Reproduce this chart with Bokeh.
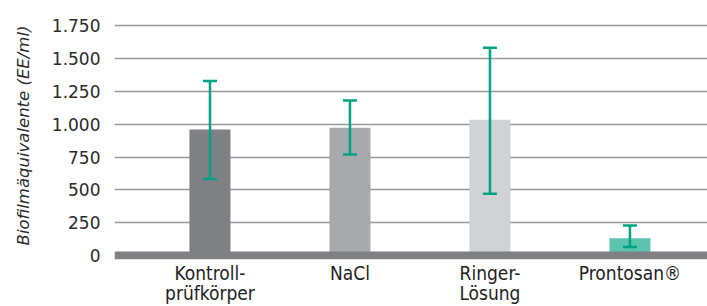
from bokeh.plotting import figure
from bokeh.models import (ColumnDataSource, Range1d, FixedTicker, Whisker, TeeHead, Span)
from bokeh.embed import file_html
from bokeh.resources import INLINE

categories = ["Kontroll-\nprüfkörper", "NaCl", "Ringer-\nLösung", "Prontosan®"]
means = [960, 975, 1035, 132]
err_upper = [1331, 1181, 1583, 230]
err_lower = [583, 770, 471, 66]
bar_colors = ["#7f8083", "#a8a9ab", "#d1d2d4", "#5cc3ae"]
y_ticks = [0, 250, 500, 750, 1000, 1250, 1500, 1750]
y_tick_labels = ["0", "250", "500", "750", "1.000", "1.250", "1.500", "1.750"]

xs = list(range(len(categories)))
src = ColumnDataSource(dict(x=xs, top=means, upper=err_upper, lower=err_lower, color=bar_colors))

p = figure(width=707, height=306, output_backend="svg", toolbar_location=None,
           x_range=Range1d(-0.682, 3.554), y_range=Range1d(-30, 1860),
           min_border_left=114, min_border_right=0, min_border_top=11, min_border_bottom=45)
p.outline_line_color = None
p.background_fill_color = "white"

p.vbar(x="x", top="top", bottom=0, width=0.293, fill_color="color", line_color=None, source=src)

tee_u = TeeHead(size=14, line_color="#00a383", line_width=2.5)
tee_l = TeeHead(size=14, line_color="#00a383", line_width=2.5)
w = Whisker(base="x", upper="upper", lower="lower", source=src, dimension="height",
            line_color="#00a383", line_width=2.5, upper_head=tee_u, lower_head=tee_l,
            level="overlay")
p.add_layout(w)

p.add_layout(Span(location=0, dimension="width", line_color="#7f8083", line_width=8))

# grid
p.xgrid.visible = False
p.ygrid.ticker = FixedTicker(ticks=y_ticks[1:])
p.ygrid.grid_line_color = "#97989b"
p.ygrid.grid_line_width = 1.6

# y axis
p.yaxis.ticker = FixedTicker(ticks=y_ticks)
p.yaxis.major_label_overrides = {t: l for t, l in zip(y_ticks, y_tick_labels)}
p.yaxis.axis_line_color = None
p.yaxis.major_tick_line_color = None
p.yaxis.minor_tick_line_color = None
p.yaxis.major_tick_out = 0
p.yaxis.major_tick_in = 0
p.yaxis.major_label_standoff = 14
p.yaxis.major_label_text_font = "DejaVu Sans"
p.yaxis.major_label_text_font_size = "17px"
p.yaxis.major_label_text_color = "#2b2b2b"
p.yaxis.axis_label = "Biofilmäquivalente (EE/ml)"
p.yaxis.axis_label_text_font = "DejaVu Sans"
p.yaxis.axis_label_text_font_style = "italic"
p.yaxis.axis_label_text_font_size = "16.5px"
p.yaxis.axis_label_text_color = "#2b2b2b"
p.yaxis.axis_label_standoff = 16

# x axis
p.xaxis.ticker = FixedTicker(ticks=xs)
p.xaxis.major_label_overrides = {i: c for i, c in zip(xs, categories)}
p.xaxis.axis_line_color = None
p.xaxis.major_tick_line_color = None
p.xaxis.minor_tick_line_color = None
p.xaxis.major_tick_out = 0
p.xaxis.major_tick_in = 0
p.xaxis.major_label_standoff = 2
p.xaxis.major_label_text_font = "DejaVu Sans Condensed"
p.xaxis.major_label_text_font_size = "19px"
p.xaxis.major_label_text_line_height = 0.92
p.xaxis.major_label_text_color = "#1e1e1e"

open("out.html", "w").write(file_html(p, INLINE))
